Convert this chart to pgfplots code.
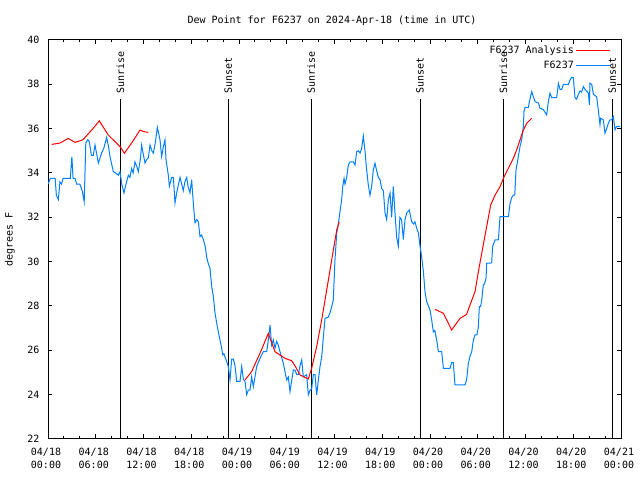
\documentclass[border=0pt]{standalone}
\usepackage{fontspec}
\setmainfont{DejaVu Sans Mono}
\setmonofont{DejaVu Sans Mono}
\usepackage{pgfplots}
\pgfplotsset{compat=1.18}
\definecolor{obsblue}{RGB}{0,128,255}
\definecolor{anared}{RGB}{255,0,0}
\begin{document}
\begin{tikzpicture}[font=\fontsize{10bp}{12bp}\selectfont]
\begin{axis}[
  at={(48bp,41bp)}, anchor=south west,
  scale only axis, width=573bp, height=399bp,
  xmin=0, xmax=72, ymin=22, ymax=40,
  xtick={0,6,...,72}, minor x tick num=2,
  ytick={22,24,...,40},
  xticklabels={{04/18\\00:00},{04/18\\06:00},{04/18\\12:00},{04/18\\18:00},{04/19\\00:00},{04/19\\06:00},{04/19\\12:00},{04/19\\18:00},{04/20\\00:00},{04/20\\06:00},{04/20\\12:00},{04/20\\18:00},{04/21\\00:00}},
  xticklabel style={align=center, font=\fontsize{10bp}{12.5bp}\selectfont, yshift=-6bp, xshift=-2bp},
  yticklabel style={font=\fontsize{10bp}{12bp}\selectfont, xshift=-5bp},
  /pgf/number format/assume math mode=true,
  tick align=inside, major tick length=4.5bp, minor tick length=2.5bp,
  tick style={black, line width=1bp},
  axis line style={line width=1bp},
  ylabel={degrees F},
  ylabel style={at={(axis description cs:0,0.5)}, anchor=center, yshift=38bp, font=\fontsize{10bp}{12bp}\selectfont},
  legend plot pos=right,
  legend image code/.code={\draw[#1] (0bp,0bp) -- (34bp,0bp);},
  legend style={draw=none, fill=none, at={(axis description cs:1,1)}, anchor=north east, xshift=-10bp, yshift=-3.7bp, inner sep=0pt, row sep=2.3bp, column sep=0pt, cells={anchor=east}, font=\fontsize{10bp}{12bp}\selectfont},
]
% sunrise / sunset lines
\addplot[black, line width=1bp, forget plot] coordinates {(9.09,22) (9.09,37.34)};
\addplot[black, line width=1bp, forget plot] coordinates {(22.66,22) (22.66,37.34)};
\addplot[black, line width=1bp, forget plot] coordinates {(33.05,22) (33.05,37.34)};
\addplot[black, line width=1bp, forget plot] coordinates {(46.75,22) (46.75,37.34)};
\addplot[black, line width=1bp, forget plot] coordinates {(57.22,22) (57.22,37.34)};
\addplot[black, line width=1bp, forget plot] coordinates {(70.91,22) (70.91,37.34)};
\node[rotate=90, anchor=west, inner sep=0pt] at (axis cs:9.09,37.57) {Sunrise};
\node[rotate=90, anchor=west, inner sep=0pt] at (axis cs:22.66,37.57) {Sunset};
\node[rotate=90, anchor=west, inner sep=0pt] at (axis cs:33.05,37.57) {Sunrise};
\node[rotate=90, anchor=west, inner sep=0pt] at (axis cs:46.75,37.57) {Sunset};
\node[rotate=90, anchor=west, inner sep=0pt] at (axis cs:57.22,37.57) {Sunrise};
\node[rotate=90, anchor=west, inner sep=0pt] at (axis cs:70.91,37.57) {Sunset};
% analysis
\addplot[anared, line width=1bp] coordinates {(0.46,35.29)(1.5,35.35)(2.55,35.56)(3.4,35.38)(4.4,35.5)(5.49,35.94)(6.45,36.35)(7.58,35.71)(9.05,35.19)(9.6,34.89)(10.6,35.4)(11.56,35.94)(12.0,35.87)(12.6,35.83)};
\addlegendentry{F6237 Analysis}
\addplot[obsblue, line width=1bp] coordinates {(0.0,33.5)(0.3,33.76)(0.9,33.76)(1.05,33.0)(1.3,32.8)(1.5,33.6)(1.7,33.5)(1.9,33.76)(2.8,33.76)(3.0,34.74)(3.15,33.76)(3.4,33.76)(3.6,33.5)(4.0,33.5)(4.3,33.2)(4.55,32.7)(4.75,35.35)(5.0,35.5)(5.2,35.4)(5.45,34.8)(5.7,34.8)(5.9,35.26)(6.1,34.9)(6.33,34.45)(6.74,34.9)(7.0,35.1)(7.37,35.6)(7.6,35.2)(7.79,34.74)(8.21,34.06)(8.5,34.0)(8.84,33.9)(9.05,34.06)(9.26,33.5)(9.55,33.1)(9.8,33.5)(10.1,33.9)(10.3,33.8)(10.5,34.2)(10.7,34.0)(10.93,34.5)(11.15,34.3)(11.35,34.06)(11.6,34.6)(11.77,35.26)(12.0,34.8)(12.19,34.45)(12.4,34.6)(12.61,34.7)(12.82,35.26)(13.05,35.0)(13.24,34.9)(13.5,35.4)(13.74,36.06)(13.9,35.8)(14.07,35.5)(14.28,34.74)(14.5,35.2)(14.7,35.5)(14.83,34.6)(15.12,33.9)(15.25,33.4)(15.54,33.8)(15.75,33.8)(15.96,32.65)(16.17,33.1)(16.4,33.5)(16.59,33.8)(16.8,33.5)(17.0,33.2)(17.2,33.6)(17.43,33.8)(17.6,33.4)(17.84,33.1)(18.05,33.7)(18.26,32.65)(18.47,31.75)(18.7,31.9)(18.89,31.8)(19.1,31.13)(19.3,31.2)(19.52,31.0)(19.75,30.7)(19.94,30.2)(20.15,29.9)(20.36,29.7)(20.56,28.9)(20.77,28.45)(20.98,27.7)(21.19,27.24)(21.4,26.84)(21.61,26.47)(21.82,26.1)(21.95,25.8)(22.1,25.85)(22.24,25.7)(22.45,25.5)(22.66,25.27)(22.87,24.66)(23.08,25.6)(23.29,25.6)(23.5,25.3)(23.71,24.6)(24.13,24.6)(24.34,25.27)(24.55,24.7)(24.75,24.6)(24.97,24.0)(25.17,24.2)(25.38,24.2)(25.59,24.8)(25.8,24.36)(26.01,24.8)(26.22,25.27)(26.64,25.64)(27.06,25.94)(27.48,25.94)(27.69,26.47)(27.9,27.14)(28.1,26.24)(28.31,26.47)(28.52,26.1)(28.73,26.4)(28.94,26.24)(29.15,25.94)(29.57,25.42)(29.99,24.66)(30.2,24.8)(30.41,24.14)(30.83,25.12)(31.05,25.1)(31.25,24.9)(31.45,24.9)(31.67,25.3)(31.88,25.57)(32.08,24.8)(32.5,24.9)(32.71,23.99)(32.92,24.2)(33.13,24.26)(33.34,24.9)(33.55,24.9)(33.76,23.99)(33.97,24.66)(34.18,25.27)(34.39,25.7)(34.6,26.6)(34.81,27.44)(35.23,27.5)(35.44,27.7)(35.65,27.97)(35.85,28.27)(36.06,30.08)(36.28,31.28)(36.48,31.7)(36.69,32.26)(36.9,32.78)(37.03,33.38)(37.2,33.76)(37.32,33.5)(37.53,33.8)(37.74,34.36)(37.95,34.5)(38.37,34.5)(38.58,34.36)(38.79,34.96)(39.0,35.0)(39.21,34.9)(39.41,35.1)(39.62,35.67)(39.83,35.0)(40.04,34.14)(40.25,33.46)(40.46,33.0)(40.67,33.4)(40.88,34.14)(41.09,34.44)(41.3,34.1)(41.51,33.8)(41.72,33.7)(41.93,33.3)(42.14,33.2)(42.35,32.2)(42.56,31.9)(42.77,32.8)(42.98,33.1)(43.18,32.0)(43.39,33.4)(43.6,32.2)(43.81,31.1)(44.02,30.7)(44.22,32.0)(44.43,31.9)(44.65,31.0)(44.86,31.9)(45.07,32.2)(45.4,32.33)(45.7,31.8)(45.91,31.7)(46.12,31.8)(46.33,31.5)(46.54,31.3)(46.75,30.7)(46.96,30.2)(47.17,29.55)(47.37,28.65)(47.58,28.2)(48.0,27.82)(48.21,27.37)(48.42,26.83)(48.6,26.9)(48.84,26.47)(49.05,25.94)(49.47,25.94)(49.68,25.19)(50.52,25.19)(50.72,25.45)(50.93,25.45)(51.14,24.44)(52.4,24.44)(52.6,24.66)(52.82,25.42)(53.03,25.73)(53.24,25.94)(53.45,26.47)(53.66,26.7)(53.9,26.7)(54.08,27.07)(54.2,27.97)(54.35,27.97)(54.5,28.27)(54.7,28.95)(54.85,29.0)(55.04,29.25)(55.13,29.93)(55.54,29.93)(55.75,29.95)(55.87,30.68)(56.17,30.98)(56.59,30.98)(56.8,32.03)(57.85,32.03)(58.06,32.63)(58.27,32.9)(58.47,33.0)(58.65,33.0)(58.81,34.14)(59.1,34.74)(59.31,35.19)(59.52,35.5)(59.73,36.09)(59.81,36.77)(59.94,36.96)(60.36,36.96)(60.49,37.22)(60.78,37.67)(60.99,37.44)(61.2,37.22)(61.62,37.16)(61.82,36.92)(62.24,36.86)(62.66,36.62)(62.87,37.22)(63.08,37.6)(63.29,37.4)(63.92,37.4)(64.13,38.05)(64.34,37.77)(64.55,37.77)(64.76,38.0)(65.39,38.0)(65.6,38.2)(65.8,38.32)(66.01,38.3)(66.22,37.4)(66.43,37.33)(66.64,37.55)(66.85,37.7)(67.06,37.65)(67.27,37.9)(67.48,37.77)(67.9,37.6)(68.03,37.07)(68.1,38.05)(68.32,38.0)(68.53,37.55)(68.94,37.44)(69.15,36.84)(69.36,36.17)(69.44,36.47)(69.78,36.4)(69.99,35.8)(70.2,36.0)(70.41,36.25)(70.62,36.4)(70.83,36.4)(71.04,36.55)(71.25,35.95)(71.46,36.1)(71.67,36.1)(71.88,36.1)};
\addlegendentry{F6237}
\addplot[anared, line width=1bp, forget plot] coordinates {(24.75,24.66)(25.59,25.04)(26.64,25.87)(27.69,26.77)(27.9,26.55)(28.52,25.94)(29.15,25.79)(29.78,25.64)(30.62,25.53)(31.04,25.3)(31.67,24.89)(32.71,24.71)(33.13,25.19)(33.76,26.17)(34.39,27.37)(35.02,28.72)(35.65,30.08)(36.28,31.43)(36.6,31.8)};
\addplot[anared, line width=1bp, forget plot] coordinates {(48.63,27.85)(49.68,27.67)(50.72,26.92)(51.77,27.44)(52.6,27.62)(53.03,28.05)(53.66,28.65)(54.08,29.55)(54.5,30.38)(55.04,31.43)(55.63,32.56)(56.17,33.0)(56.8,33.38)(57.22,33.76)(57.85,34.21)(58.47,34.66)(58.89,35.04)(59.31,35.49)(59.73,35.94)(60.15,36.24)(60.78,36.47)};
\end{axis}
\node at (332bp,459bp) {Dew Point for F6237 on 2024-Apr-18 (time in UTC)};
\pgfresetboundingbox
\useasboundingbox (0,0) rectangle (640bp,480bp);
\end{tikzpicture}
\end{document}
